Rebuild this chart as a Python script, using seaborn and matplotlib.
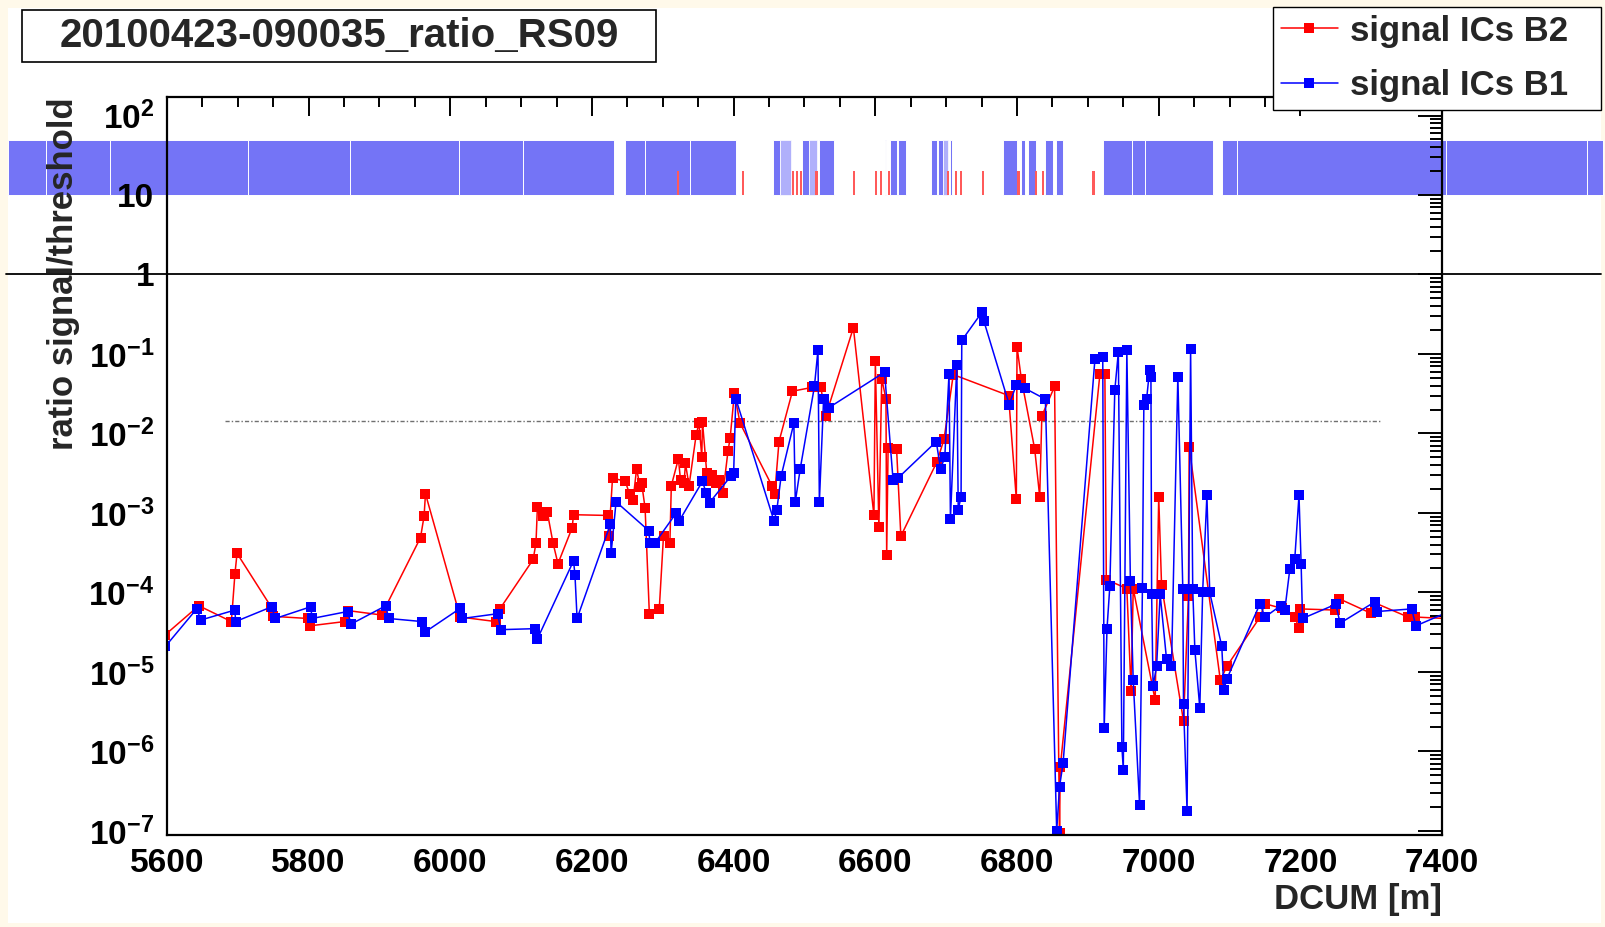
import numpy as np
import pandas as pd
import matplotlib
matplotlib.use('Agg')
import matplotlib.pyplot as plt
import seaborn as sns
from matplotlib.patches import Rectangle
from matplotlib.ticker import MultipleLocator, LogLocator, NullFormatter

# ---------------- data ----------------
b2_x = [5598, 5645, 5691, 5696, 5699, 5747, 5750, 5799, 5802, 5851, 5856, 5903, 5958, 5963, 5965,
        6014, 6064, 6070, 6117, 6121, 6123, 6131, 6137, 6145, 6152, 6172, 6174, 6222, 6224, 6229,
        6247, 6253, 6258, 6263, 6268, 6270, 6275, 6281, 6295, 6301, 6310, 6312, 6322, 6325, 6330,
        6332, 6337, 6347, 6351, 6355, 6356, 6362, 6366, 6370, 6375, 6380, 6385, 6392, 6395, 6401,
        6409, 6454, 6458, 6464, 6483, 6511, 6523, 6530, 6569, 6598, 6600, 6605, 6609, 6615, 6616,
        6618, 6630, 6636, 6687, 6697, 6710, 6788, 6799, 6800, 6806, 6825, 6832, 6835, 6853, 6860,
        6861, 6917, 6924, 6926, 6955, 6961, 6964, 6995, 7000, 7004, 7035, 7042, 7043, 7087, 7096,
        7143, 7150, 7174, 7192, 7198, 7200, 7249, 7255, 7299, 7305, 7352, 7362, 7405]
b2_y = [2.95e-5, 6.8e-5, 4.3e-5, 1.7e-4, 3.1e-4, 6.6e-5, 5.0e-5, 4.7e-5, 3.8e-5, 4.3e-5, 5.9e-5, 5.2e-5, 4.9e-4, 9.1e-4, 1.74e-3,
        4.9e-5, 4.3e-5, 6.2e-5, 2.6e-4, 4.2e-4, 1.2e-3, 9.1e-4, 1.02e-3, 4.2e-4, 2.3e-4, 6.5e-4, 9.5e-4, 9.3e-4, 5.2e-4, 2.75e-3,
        2.5e-3, 1.74e-3, 1.45e-3, 3.6e-3, 2.1e-3, 2.4e-3, 1.15e-3, 5.4e-5, 6.2e-5, 5.2e-4, 4.2e-4, 2.2e-3, 4.8e-3, 2.6e-3, 2.4e-3,
        4.2e-3, 2.2e-3, 9.5e-3, 1.35e-2, 5.1e-3, 1.4e-2, 3.2e-3, 2.5e-3, 3.0e-3, 2.4e-3, 2.6e-3, 1.8e-3, 6.0e-3, 8.7e-3, 3.2e-2,
        1.35e-2, 2.2e-3, 1.74e-3, 7.9e-3, 3.4e-2, 3.8e-2, 3.8e-2, 1.66e-2, 0.214, 9.3e-4, 8.1e-2, 6.6e-4, 4.9e-2, 2.7e-2, 2.95e-4,
        6.5e-3, 6.3e-3, 5.1e-4, 4.4e-3, 8.5e-3, 5.5e-2, 3.0e-2, 1.5e-3, 0.123, 4.9e-2, 6.3e-3, 1.6e-3, 1.66e-2, 3.9e-2, 9.3e-8,
        6.3e-7, 5.6e-2, 5.6e-2, 1.45e-4, 1.12e-4, 5.75e-6, 1.12e-4, 4.4e-6, 1.6e-3, 1.23e-4, 2.4e-6, 9.1e-5, 6.8e-3, 7.8e-6, 1.17e-5,
        4.9e-5, 7.2e-5, 6.3e-5, 4.9e-5, 3.6e-5, 6.2e-5, 6.0e-5, 8.3e-5, 5.5e-5, 7.4e-5, 4.9e-5, 4.9e-5, 4.7e-5]

b1_x = [5598, 5642, 5648, 5696, 5697, 5748, 5753, 5803, 5805, 5855, 5860, 5909, 5913, 5960, 5965,
        6014, 6017, 6067, 6071, 6120, 6123, 6174, 6176, 6179, 6226, 6227, 6234, 6280, 6282, 6289,
        6319, 6323, 6356, 6361, 6366, 6396, 6400, 6403, 6457, 6461, 6467, 6485, 6487, 6494, 6514,
        6519, 6521, 6527, 6534, 6613, 6625, 6632, 6686, 6692, 6698, 6704, 6706, 6715, 6717, 6721,
        6722, 6751, 6753, 6789, 6799, 6811, 6840, 6856, 6860, 6865, 6910, 6921, 6923, 6927, 6931,
        6938, 6943, 6948, 6950, 6955, 6960, 6964, 6973, 6977, 6979, 6983, 6987, 6989, 6990, 6992,
        6997, 7002, 7011, 7018, 7027, 7034, 7035, 7040, 7045, 7048, 7051, 7058, 7062, 7068, 7072,
        7089, 7092, 7096, 7143, 7150, 7172, 7178, 7185, 7192, 7198, 7201, 7203, 7250, 7256, 7305,
        7308, 7357, 7363, 7405]
b1_y = [2.1e-5, 6.2e-5, 4.5e-5, 6.0e-5, 4.3e-5, 6.6e-5, 4.7e-5, 6.6e-5, 4.7e-5, 5.75e-5, 4.0e-5, 6.8e-5, 4.7e-5, 4.3e-5, 3.2e-5,
        6.3e-5, 4.7e-5, 5.4e-5, 3.4e-5, 3.5e-5, 2.6e-5, 2.5e-4, 1.66e-4, 4.7e-5, 7.2e-4, 3.1e-4, 1.38e-3, 6.0e-4, 4.2e-4, 4.2e-4,
        1.0e-3, 7.9e-4, 2.5e-3, 1.8e-3, 1.35e-3, 2.9e-3, 3.2e-3, 2.75e-2, 7.9e-4, 1.1e-3, 2.9e-3, 1.35e-2, 1.38e-3, 3.6e-3, 3.9e-2,
        0.112, 1.38e-3, 2.75e-2, 2.1e-2, 5.9e-2, 2.6e-3, 2.75e-3, 7.9e-3, 3.6e-3, 5.0e-3, 5.6e-2, 8.5e-4, 7.2e-2, 1.1e-3, 1.6e-3,
        0.148, 0.34, 0.263, 2.3e-2, 4.1e-2, 3.7e-2, 2.7e-2, 1.0e-7, 3.6e-7, 7.1e-7, 8.7e-2, 9.1e-2, 1.95e-6, 3.5e-5, 1.2e-4,
        3.5e-2, 0.105, 1.15e-6, 5.9e-7, 0.112, 1.38e-4, 7.8e-6, 2.1e-7, 1.15e-4, 2.3e-2, 2.75e-2, 6.2e-2, 5.2e-2, 9.5e-5, 6.6e-6,
        1.17e-5, 9.5e-5, 1.45e-5, 1.17e-5, 5.2e-2, 1.1e-4, 3.9e-6, 1.8e-7, 0.115, 1.1e-4, 1.9e-5, 3.5e-6, 1.02e-4, 1.66e-3, 1.0e-4,
        2.1e-5, 6.0e-6, 8.1e-6, 7.2e-5, 4.9e-5, 6.8e-5, 6.0e-5, 1.95e-4, 2.6e-4, 1.66e-3, 2.3e-4, 4.7e-5, 7.1e-5, 4.1e-5, 7.6e-5,
        5.75e-5, 6.2e-5, 3.8e-5, 5.5e-5]

# top status band (DCUM segments)
band_start = [5375, 5429, 5519, 5714, 5858, 6012, 6102, 6246, 6275, 6339, 6456, 6497, 6521, 6613, 6620, 6632,
              6678, 6688, 6706, 6780, 6805, 6815, 6840, 6855, 6921, 6962, 6980, 7090, 7110, 7405, 7604]
band_end = [5429, 5519, 5714, 5858, 6012, 6102, 6231, 6275, 6339, 6404, 6466, 6507, 6542, 6615, 6630, 6643,
            6687, 6696, 6708, 6800, 6811, 6827, 6851, 6865, 6962, 6980, 7076, 7110, 7405, 7604, 7627]
light_start = [6466, 6507, 6696]
light_end = [6481, 6517, 6703]
band_low, band_high = 10, 49
red_tick_x = [6321, 6413, 6484, 6489, 6495, 6517, 6570, 6601, 6608, 6619, 6702, 6714, 6721, 6752,
              6802, 6827, 6837, 6908]
red_tick_high = 20

thr_x = [5682, 7313]
thr_y = [0.0144, 0.0144]
unity_x = [5373, 7625]
unity_y = [1, 1]

xticks = [5600, 5800, 6000, 6200, 6400, 6600, 6800, 7000, 7200, 7400]
yticks = [1e-7, 1e-6, 1e-5, 1e-4, 1e-3, 1e-2, 1e-1, 1, 10, 100]
ytick_labels = [r'$10^{-7}$', r'$10^{-6}$', r'$10^{-5}$', r'$10^{-4}$', r'$10^{-3}$',
                r'$10^{-2}$', r'$10^{-1}$', '1', '10', r'$10^{2}$']

title = '20100423-090035_ratio_RS09'

# ---------------- style ----------------
sns.set_style('white')
plt.rcParams['font.family'] = ['Liberation Sans', 'DejaVu Sans']
plt.rcParams['font.weight'] = 'bold'
plt.rcParams['mathtext.fontset'] = 'custom'
plt.rcParams['mathtext.rm'] = 'Liberation Sans:bold'
plt.rcParams['mathtext.bf'] = 'Liberation Sans:bold'
plt.rcParams['mathtext.it'] = 'Liberation Sans:bold'
plt.rcParams['mathtext.default'] = 'rm'
plt.rcParams['axes.axisbelow'] = False

W, H = 1606, 927
fig = plt.figure(figsize=(W / 100, H / 100), dpi=100)
fig.patch.set_facecolor('#fff9ea')
fig.patches.append(Rectangle((8 / W, 4 / H), (W - 13) / W, (H - 12) / H, transform=fig.transFigure,
                             facecolor='white', edgecolor='none', zorder=-10))

ax = fig.add_axes([166.9 / W, 1 - 835 / H, 1275.2 / W, 738 / H])
ax.set_facecolor('white')
ax.set_yscale('log')
ax.set_axisbelow(False)

# band
bars = ax.bar(band_start, np.subtract(band_high, band_low), width=np.subtract(band_end, band_start),
              bottom=band_low, align='edge', color='#7474f6', edgecolor='white', linewidth=0.7, zorder=1)
for p in bars:
    p.set_clip_on(False)
bars = ax.bar(light_start, band_high - band_low, width=np.subtract(light_end, light_start),
              bottom=band_low, align='edge', color='#b0b0fb', edgecolor='white', linewidth=0.5, zorder=1)
for p in bars:
    p.set_clip_on(False)
bars = ax.bar(red_tick_x, red_tick_high - band_low, width=3, bottom=band_low, align='center',
              color='#ff5a5a', linewidth=0, zorder=1.2)
for p in bars:
    p.set_clip_on(False)

ax.plot(unity_x, unity_y, color='black', lw=1.3, clip_on=False, zorder=2)
ax.plot(thr_x, thr_y, color='#707070', lw=1.0, ls=(0, (3, 1.5, 1, 1.5)), zorder=2)

df_b2 = pd.DataFrame({'DCUM': b2_x, 'ratio': b2_y})
df_b1 = pd.DataFrame({'DCUM': b1_x, 'ratio': b1_y})
sns.lineplot(data=df_b2, x='DCUM', y='ratio', ax=ax, color='#ff0000', marker='s', markersize=7,
             markeredgewidth=0, linewidth=1.1, estimator=None, sort=False, label='signal ICs B2', zorder=3)
sns.lineplot(data=df_b1, x='DCUM', y='ratio', ax=ax, color='#0000ff', marker='s', markersize=7,
             markeredgewidth=0, linewidth=1.1, estimator=None, sort=False, label='signal ICs B1', zorder=3)

ax.set_xlim(5600, 7400)
ax.set_ylim(10 ** -7.052, 10 ** 2.233)
ax.set_xticks(xticks, [str(v) for v in xticks])
ax.xaxis.set_minor_locator(MultipleLocator(50))
ax.set_yticks(yticks, ytick_labels)
ax.yaxis.set_minor_locator(LogLocator(base=10, subs=np.arange(2, 10), numticks=30))
ax.yaxis.set_minor_formatter(NullFormatter())
ax.set_xlabel('')
ax.set_ylabel('')

ax.tick_params(axis='both', which='both', direction='in', top=True, right=True, width=1.4,
               color='black', labelcolor='black')
ax.tick_params(axis='x', which='major', length=14, pad=9, labelsize=24)
ax.tick_params(axis='x', which='minor', length=7)
ax.tick_params(axis='y', which='major', length=17, pad=9, labelsize=24)
ax.tick_params(axis='y', which='minor', length=9)
for s in ax.spines.values():
    s.set_visible(True)
    s.set_color('black')
    s.set_linewidth(1.6)
    s.set_zorder(4)

handles, labels = ax.get_legend_handles_labels()
leg = ax.legend(handles, labels, loc='upper left', mode='expand',
                bbox_to_anchor=(1273 / W, 1 - 110 / H, 328 / W, 103 / H),
                bbox_transform=fig.transFigure, borderaxespad=0,
                prop=dict(family=['Liberation Sans', 'DejaVu Sans'], weight='bold', size=25),
                frameon=True, fancybox=False, edgecolor='black', framealpha=1,
                handlelength=1.65, handletextpad=0.35, labelspacing=0.62, borderpad=0.22)
leg.get_frame().set_linewidth(1.0)
leg.set_zorder(10)

# title box
fig.patches.append(Rectangle((22.5 / W, 1 - 61.5 / H), 633 / W, 51.3 / H, transform=fig.transFigure,
                             facecolor='white', edgecolor='black', linewidth=1.2, zorder=5))
fig.text(339 / W, 1 - 36 / H, title, ha='center', va='center', fontsize=29, weight='bold', zorder=6)

fig.text(63.5 / W, 1 - 97 / H, 'ratio signal/threshold', rotation=90, ha='center', va='top',
         fontsize=25, weight='bold')
fig.text(1442 / W, 1 - 899 / H, 'DCUM [m]', ha='right', va='center', fontsize=25, weight='bold')

fig.savefig('out.png', dpi=100, facecolor=fig.get_facecolor())
